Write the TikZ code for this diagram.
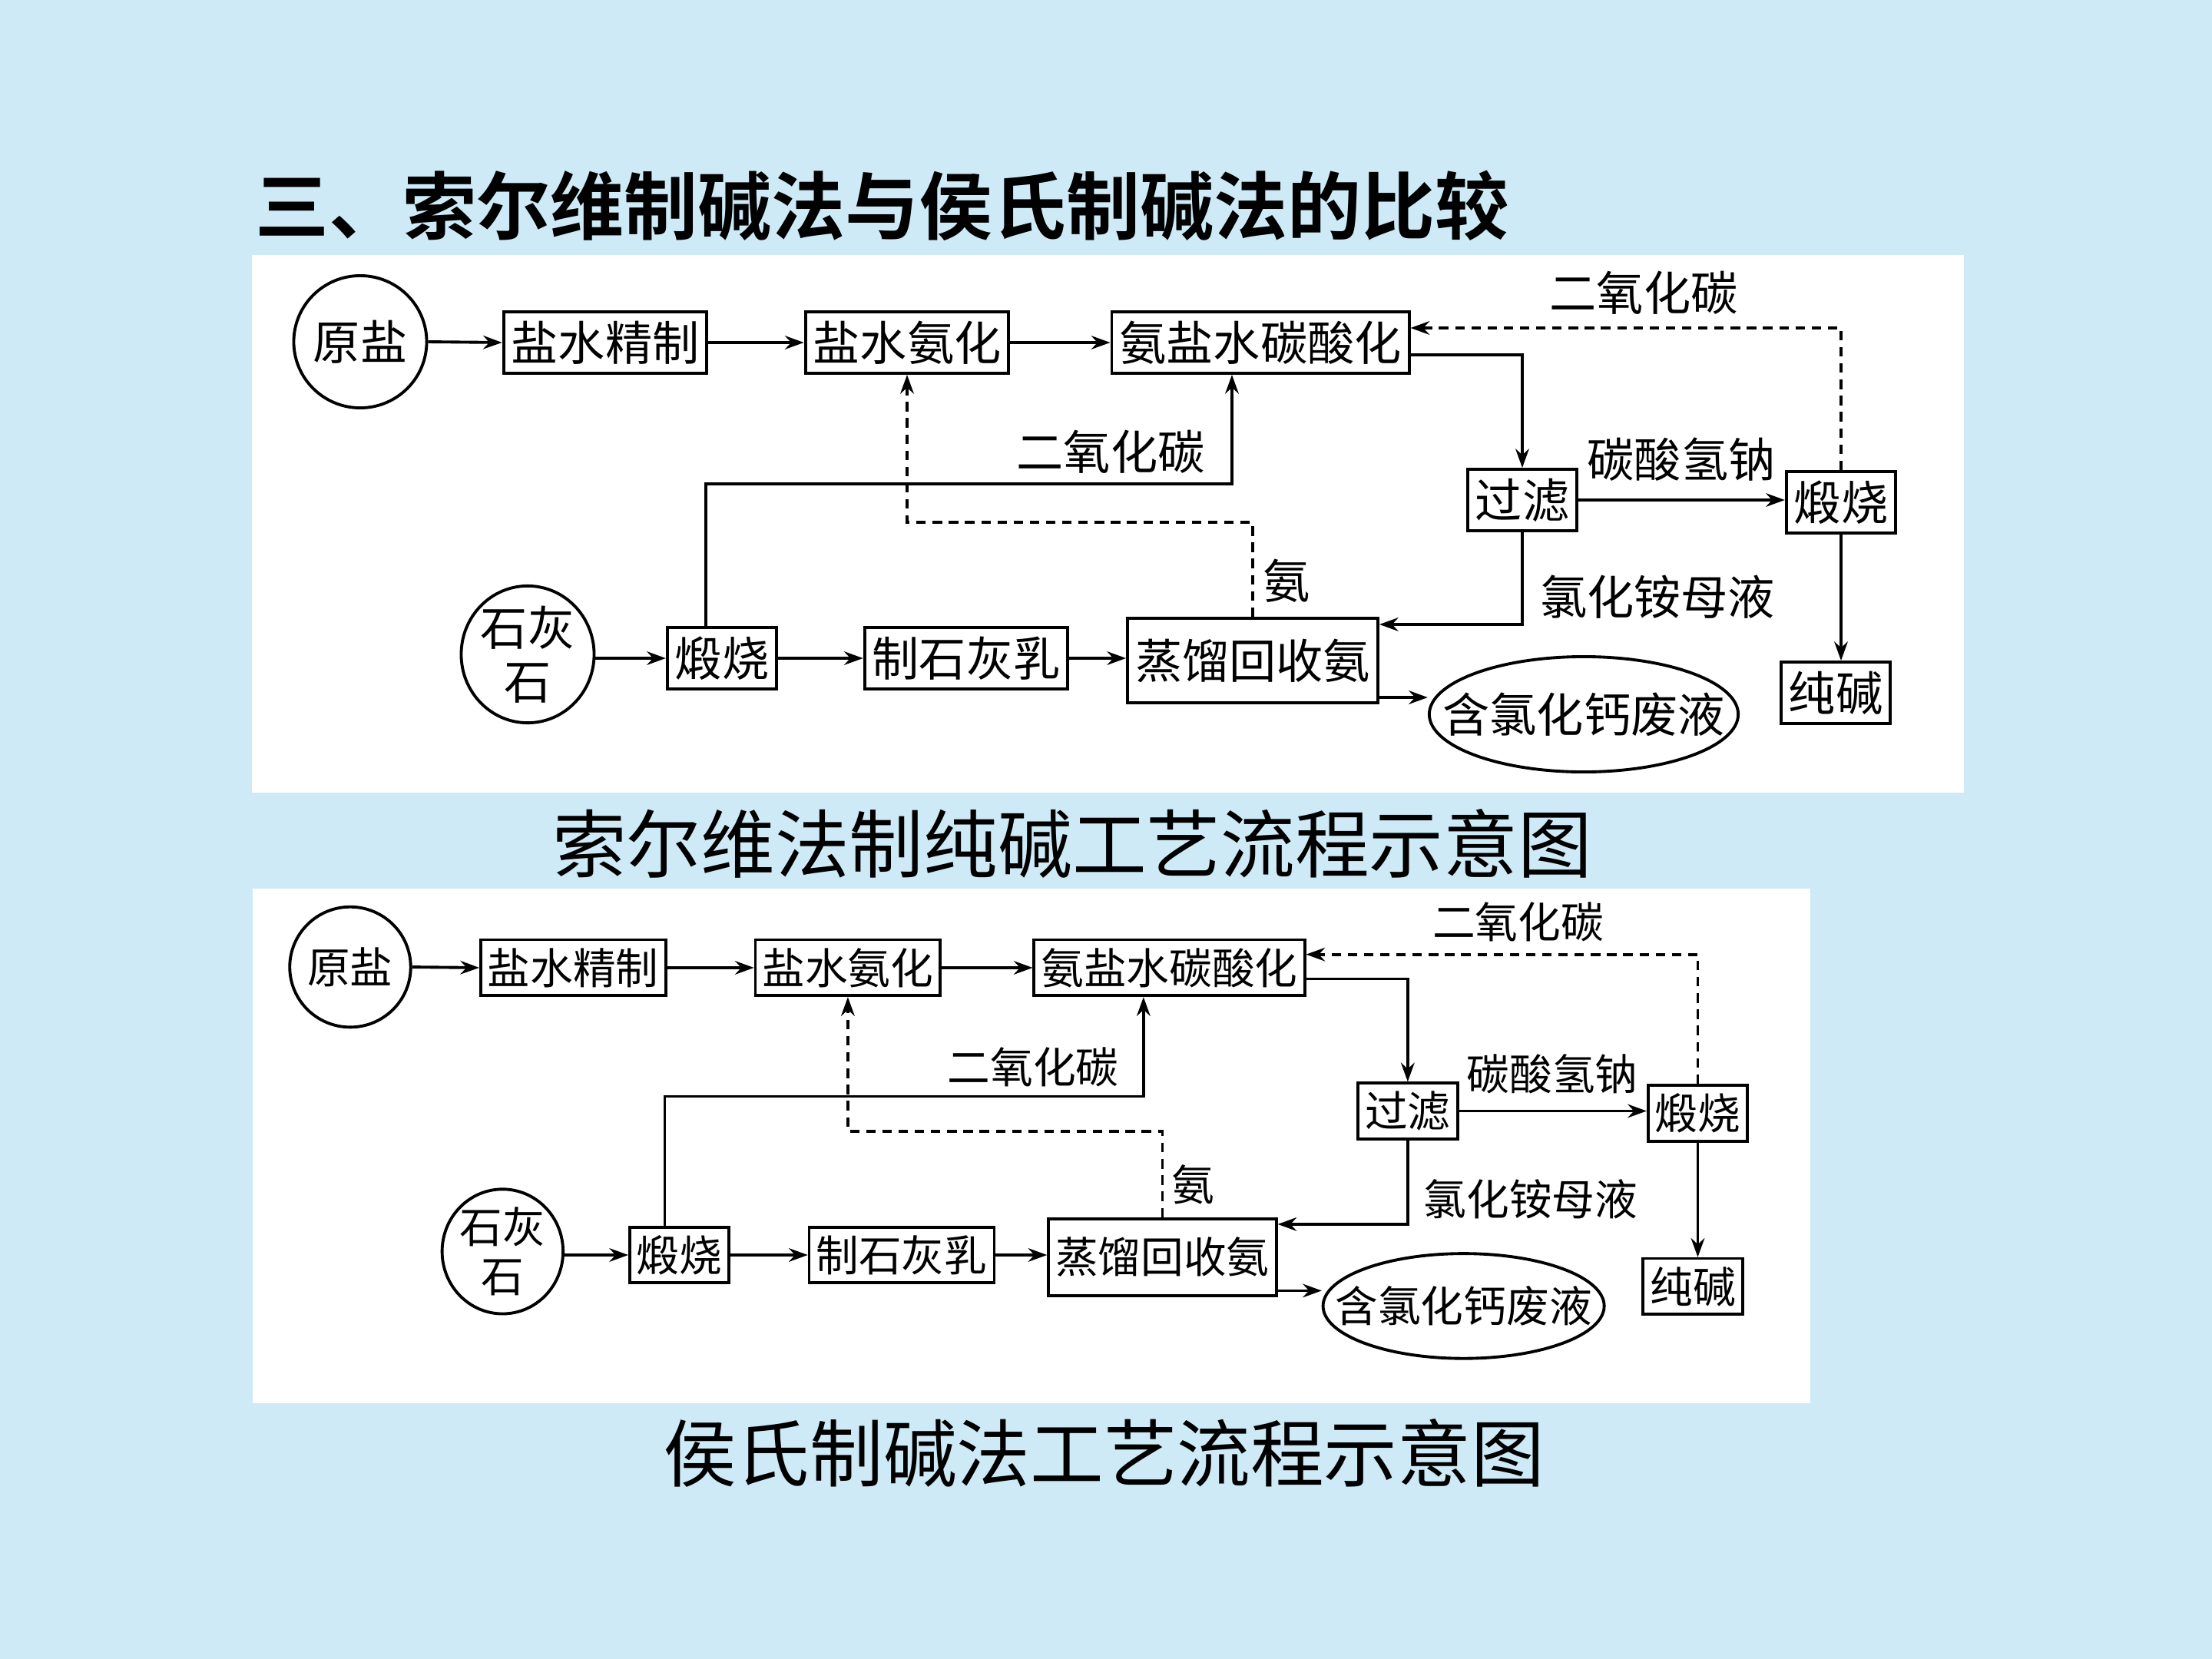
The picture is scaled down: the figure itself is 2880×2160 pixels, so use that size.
\documentclass[tikz,border=0pt]{standalone}
\usepackage{fontspec}
\newfontfamily\cjk{Noto Sans CJK SC}
\newfontfamily\cjkbold{Noto Sans CJK SC Bold}
\usetikzlibrary{arrows.meta,shapes.geometric}
\definecolor{slidebg}{RGB}{205,234,246}

\begin{document}
\begin{tikzpicture}[x=0.01cm,y=-0.01cm,line width=1.1pt,
  every node/.style={font=\cjk\fontsize{17.4}{19.8}\selectfont, inner sep=0},
  box/.style={draw, rectangle, inner xsep=0.1cm, minimum height=0.8cm},
  oval/.style={draw, ellipse, align=center},
  flow/.style={-{Stealth[length=7pt,width=5pt]}},
  back/.style={flow, dash pattern=on 3.5pt off 2.5pt},
  soda/.pic={
    % upper line: brine
    \node[oval, minimum width=1.7cm, minimum height=1.72cm] (yuanyan) at (469,445) {原盐};
    \node[box] (jingzhi) at (788,446) {盐水精制};
    \node[box] (anhua) at (1181,446) {盐水氨化};
    \node[box] (tansuan) at (1641,446) {氨盐水碳酸化};
    \node[box] (guolv) at (1982,651) {过滤};
    \node[box] (duanR) at (2397,654) {煅烧};
    \node[box] (chunjian) at (2390,902) {纯碱};
    % lower line: limestone
    \node[oval, minimum width=1.7cm, minimum height=1.76cm] (shihuishi) at (687,852) {石灰\\石};
    \node[box] (duanL) at (940,857) {煅烧};
    \node[box] (shihuiru) at (1258,857) {制石灰乳};
    \node[box, minimum height=1.1cm] (zhengliu) at (1631,860) {蒸馏回收氨};
    \node[oval, minimum width=4.02cm, minimum height=1.5cm] (feiye) at (2062,930) {\makebox[0pt]{含氯化钙废液}};
    % labels
    \node (co2top) at (2140,381) {二氧化碳};
    \node (co2mid) at (1446,588) {二氧化碳};
    \node (nahco3) at (2189,598) {碳酸氢钠};
    \node (nh4cl) at (2158,777) {氯化铵母液};
    \node (an) at (1675,756) {氨};
    % connectors
    \draw[flow] (yuanyan.east) -- (jingzhi.west);
    \draw[flow] (jingzhi) -- (anhua);
    \draw[flow] (anhua) -- (tansuan);
    \draw[flow] ([yshift=-0.16cm]tansuan.east) -| (guolv.north);
    \draw[flow] (guolv.east) -- (guolv.east -| duanR.west);
    \draw[flow] (duanR.south) -- (duanR.south |- chunjian.north);
    \draw[back] (duanR.north) |- ([yshift=0.19cm]tansuan.east);
    \draw[flow] (guolv.south) |- ([yshift=0.47cm]zhengliu.east);
    \coordinate (zout) at ([yshift=-0.48cm]zhengliu.east);
    \draw[flow] (zout) -- (zout -| feiye.west);
    \draw[back] (zhengliu.north) -- ++(0,-123) -| (anhua.south);
    \draw[flow] ([xshift=-0.21cm]duanL.north) -- ++(0,-185) -| ([xshift=-0.37cm]tansuan.south);
    \draw[flow] (shihuishi.east |- duanL.west) -- (duanL.west);
    \draw[flow] (duanL) -- (shihuiru);
    \draw[flow] (shihuiru.east) -- (shihuiru.east -| zhengliu.west);
  }]
\useasboundingbox (0,0) rectangle (2880,2160);
\fill[slidebg] (0,0) rectangle (2880,2160);
\fill[white] (328,332) rectangle (2557,1032);
\fill[white] (329,1157) rectangle (2357,1827);
\node[anchor=west, font=\cjkbold\fontsize{27.3}{30}\selectfont] (title) at (331,268) {三、索尔维制碱法与侯氏制碱法的比较};
\pic (a-) at (0,0) {soda};
\node[font=\cjk\fontsize{27.5}{30}\selectfont] (cap1) at (1396,1098) {索尔维法制纯碱工艺流程示意图};
\pic[scale=0.91, transform shape] (b-) at (29.2,854.1) {soda};
\node[font=\cjk\fontsize{27.2}{30}\selectfont] (cap2) at (1437,1892) {侯氏制碱法工艺流程示意图};
\end{tikzpicture}
\end{document}
